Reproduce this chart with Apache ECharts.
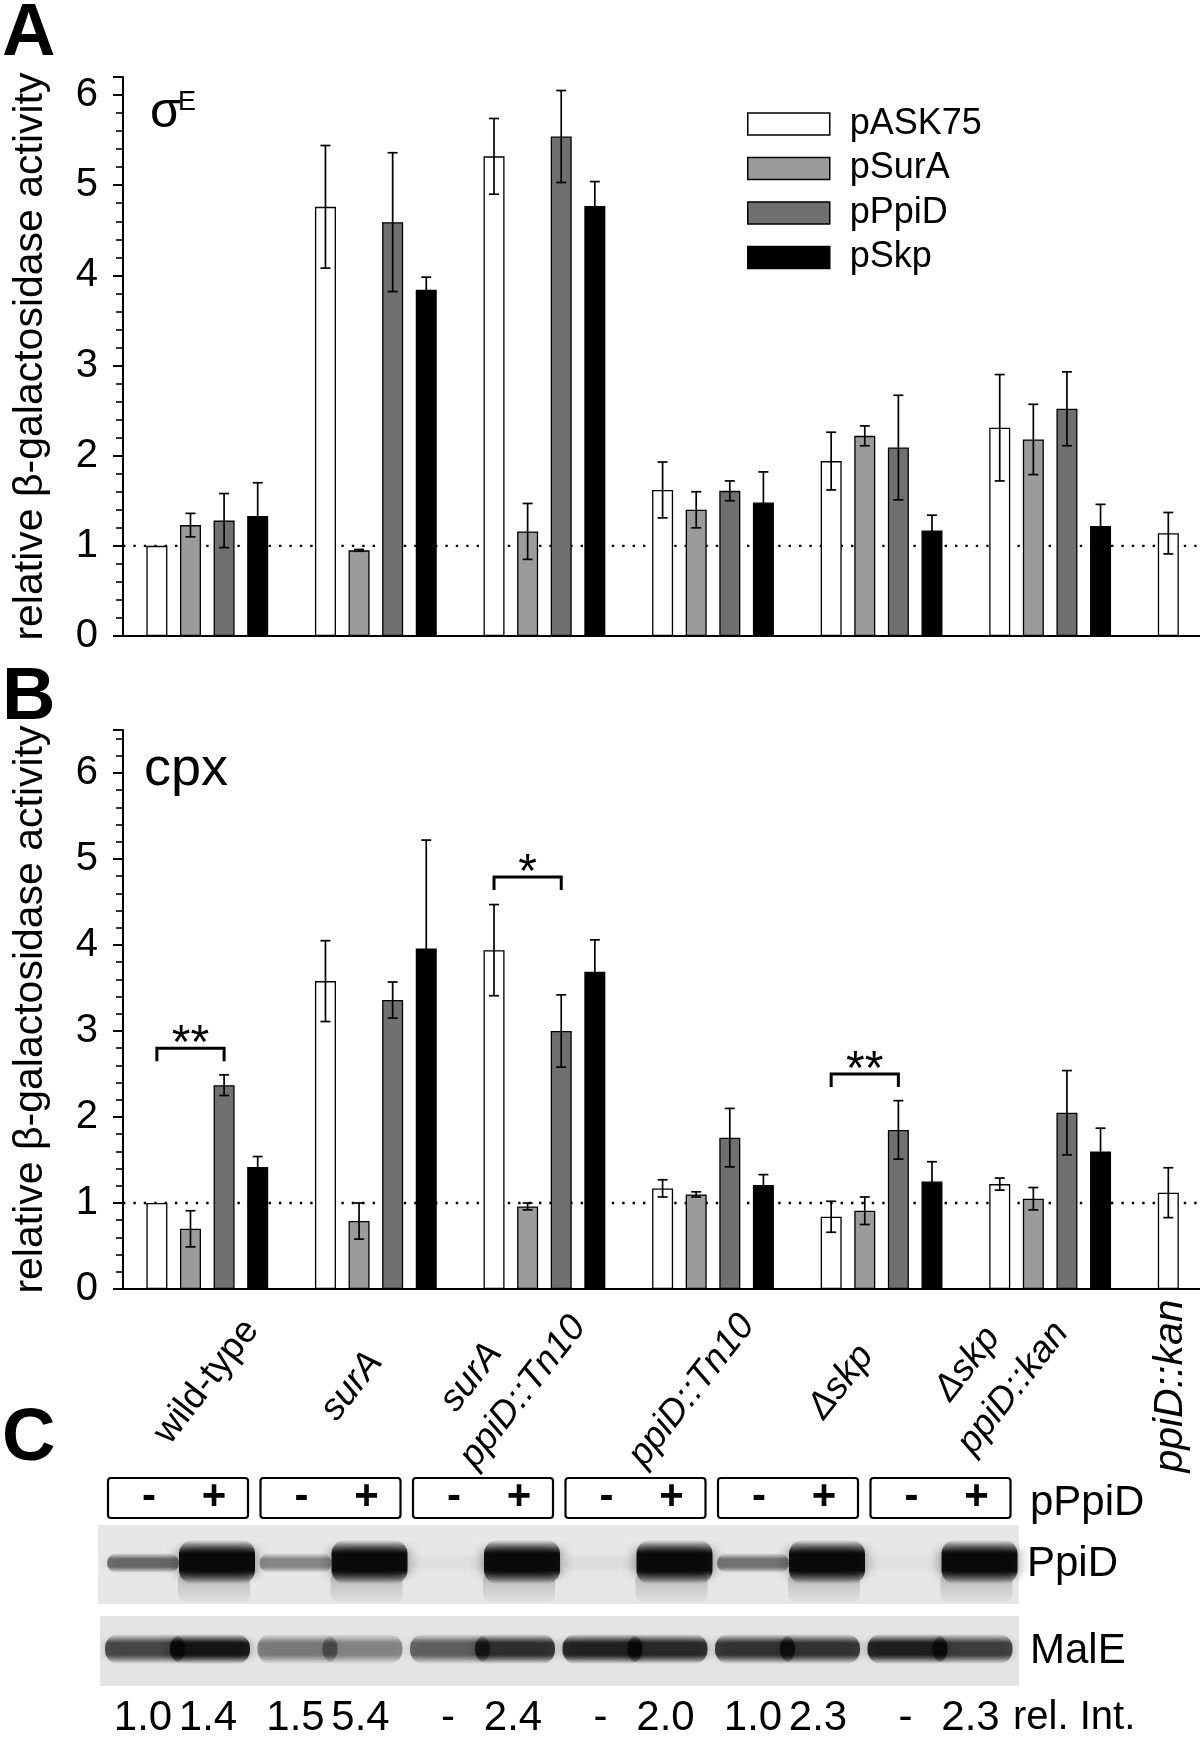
<!DOCTYPE html>
<html><head><meta charset="utf-8">
<script src="https://cdn.jsdelivr.net/npm/echarts/dist/echarts.min.js"></script>
<style>html,body{margin:0;padding:0;background:#fff}#c{width:1200px;height:1741px}</style>
</head><body><div id="c"></div>
<script>
// ---------------- data ----------------
const groups = ['wild-type', 'surA', 'surA\nppiD::Tn10', 'ppiD::Tn10', 'Δskp', 'Δskp\nppiD::kan', 'ppiD::kan'];
const seriesNames = ['pASK75', 'pSurA', 'pPpiD', 'pSkp'];

// Panel A: sigma E reporter
const sigE_pASK75 = [1.00, 4.76, 5.32, 1.62, 1.94, 2.31, 1.14];
const sigE_pSurA  = [1.23, 0.95, 1.16, 1.40, 2.22, 2.18, null];
const sigE_pPpiD  = [1.28, 4.59, 5.54, 1.61, 2.09, 2.52, null];
const sigE_pSkp   = [1.33, 3.84, 4.77, 1.48, 1.17, 1.22, null];
const sigE_err_pASK75 = [0, 0.68, 0.42, 0.31, 0.32, 0.59, 0.23];
const sigE_err_pSurA  = [0.13, 0.01, 0.31, 0.20, 0.11, 0.39, 0];
const sigE_err_pPpiD  = [0.30, 0.77, 0.51, 0.11, 0.58, 0.41, 0];
const sigE_err_pSkp   = [0.37, 0.14, 0.27, 0.34, 0.17, 0.24, 0];

// Panel B: cpx reporter
const cpx_pASK75 = [1.00, 3.58, 3.94, 1.17, 0.84, 1.22, 1.12];
const cpx_pSurA  = [0.70, 0.79, 0.96, 1.10, 0.91, 1.05, null];
const cpx_pPpiD  = [2.37, 3.36, 3.00, 1.76, 1.85, 2.05, null];
const cpx_pSkp   = [1.42, 3.96, 3.69, 1.21, 1.25, 1.60, null];
const cpx_err_pASK75 = [0, 0.47, 0.53, 0.10, 0.18, 0.07, 0.29];
const cpx_err_pSurA  = [0.21, 0.21, 0.04, 0.03, 0.16, 0.13, 0];
const cpx_err_pPpiD  = [0.12, 0.21, 0.42, 0.34, 0.34, 0.49, 0];
const cpx_err_pSkp   = [0.12, 1.26, 0.37, 0.12, 0.23, 0.27, 0];

// significance brackets in panel B (group index, bracket height, label)
const sigGroups  = [0, 2, 4];
const sigHeights = [2.80, 4.79, 2.50];
const sigLabels  = ['**', '*', '**'];

const yTicksA = [0, 1, 2, 3, 4, 5, 6];
const yTicksB = [0, 1, 2, 3, 4, 5, 6];

// Panel C: western blot
const pPpiDSigns = ['-', '+'];
const relInt = ['1.0', '1.4', '1.5', '5.4', '-', '2.4', '-', '2.0', '1.0', '2.3', '-', '2.3'];
const ppidBand = [0.55, 1.0, 0.42, 1.0, 0.04, 1.0, 0.05, 1.0, 0.5, 1.0, 0.03, 1.0];
const maleBand = [0.62, 0.85, 0.42, 0.38, 0.52, 0.72, 0.78, 0.75, 0.7, 0.7, 0.8, 0.66];

// ---------------- style / layout ----------------
const FONT = '"Liberation Sans", Arial, Helvetica, sans-serif';
const NARROW = '"Liberation Sans Narrow", "Arial Narrow", "Liberation Sans", sans-serif';
const colors = ['#ffffff', '#9b9b9b', '#707070', '#000000'];
const BAR_W = 21, GAP = 0.6, SLOT = BAR_W * (1 + GAP);

const chart = echarts.init(document.getElementById('c'), null, {renderer: 'canvas', width: 1200, height: 1741});

function errData(vals, errs) {
  const out = [];
  vals.forEach((arr, s) => arr.forEach((v, c) => {
    if (v != null && errs[s][c] > 0) out.push([c, v, errs[s][c], s]);
  }));
  return out;
}
function errRender(params, api) {
  const c = api.value(0), v = api.value(1), e = api.value(2), s = api.value(3);
  const x = api.coord([c, v])[0] + (s - 1.5) * SLOT;
  const top = api.coord([c, v + e])[1], bot = api.coord([c, v - e])[1];
  const hw = 5, st = {stroke: '#000', lineWidth: 1.7};
  return {type: 'group', children: [
    {type: 'line', shape: {x1: x, y1: top, x2: x, y2: bot}, style: st},
    {type: 'line', shape: {x1: x - hw, y1: top, x2: x + hw, y2: top}, style: st},
    {type: 'line', shape: {x1: x - hw, y1: bot, x2: x + hw, y2: bot}, style: st}
  ]};
}
function refRender(params, api) {
  const y = api.coord([0, 1])[1];
  const cs = params.coordSys;
  return {type: 'line', shape: {x1: cs.x, y1: y, x2: cs.x + cs.width, y2: y},
    style: {stroke: '#000', lineWidth: 2.4, lineDash: [2.4, 8]}};
}
function sigRender(params, api) {
  const c = api.value(0), h = api.value(1), k = api.value(2);
  const p = api.coord([c, h]);
  const x1 = p[0] - 1.5 * SLOT, x2 = p[0] + 0.5 * SLOT, y = p[1];
  const st = {stroke: '#000', lineWidth: 3, lineJoin: 'miter'};
  return {type: 'group', children: [
    {type: 'polyline', shape: {points: [[x1, y + 13], [x1, y], [x2, y], [x2, y + 13]]}, style: Object.assign({fill: null}, st)},
    {type: 'text', x: (x1 + x2) / 2, y: y - 3, style: {text: sigLabels[k], fontSize: 48, fontFamily: FONT, fill: '#000', align: 'center', verticalAlign: 'middle'}}
  ]};
}

const valsA = [sigE_pASK75, sigE_pSurA, sigE_pPpiD, sigE_pSkp];
const errsA = [sigE_err_pASK75, sigE_err_pSurA, sigE_err_pPpiD, sigE_err_pSkp];
const valsB = [cpx_pASK75, cpx_pSurA, cpx_pPpiD, cpx_pSkp];
const errsB = [cpx_err_pASK75, cpx_err_pSurA, cpx_err_pPpiD, cpx_err_pSkp];

function barSeries(vals, panel) {
  return vals.map((d, s) => ({
    type: 'bar', name: seriesNames[s], xAxisIndex: panel, yAxisIndex: panel * 2,
    data: d.map(v => v == null ? '-' : v), barWidth: BAR_W, barGap: '60%', z: 2,
    itemStyle: {color: colors[s], borderColor: '#000', borderWidth: 1.3},
    emphasis: {disabled: true}, silent: true
  }));
}

const yName = 'relative β-galactosidase activity';
function majorY(grid, max, ticks) {
  return {gridIndex: grid, type: 'value', min: 0, max: max, interval: 1, position: 'left',
    axisLine: {show: true, lineStyle: {color: '#000', width: 2}},
    axisTick: {show: true, length: 10, lineStyle: {color: '#000', width: 2}},
    axisLabel: {fontSize: 40, fontFamily: FONT, color: '#000', margin: 25,
      formatter: v => ticks.indexOf(Math.round(v * 1000) / 1000) >= 0 ? String(Math.round(v)) : ''},
    splitLine: {show: false},
    name: yName, nameLocation: 'middle', nameRotate: 90, nameGap: 72,
    nameTextStyle: {fontSize: 41, fontFamily: FONT, color: '#000'}};
}
function minorY(grid, max) {
  return {gridIndex: grid, type: 'value', min: 0, max: max, interval: 0.2, position: 'left',
    axisLine: {show: false}, axisLabel: {show: false}, splitLine: {show: false},
    axisTick: {show: true, length: 7, lineStyle: {color: '#000', width: 1.6}}};
}
function catX(grid) {
  return {gridIndex: grid, type: 'category', data: groups,
    axisLine: {lineStyle: {color: '#000', width: 2}}, axisTick: {show: false}, axisLabel: {show: false}};
}

chart.setOption({
  animation: false,
  backgroundColor: '#fff',
  grid: [
    {left: 123, top: 77, width: 1180, height: 559, outerBoundsMode: 'none', containLabel: false},
    {left: 123, top: 730, width: 1180, height: 559, outerBoundsMode: 'none', containLabel: false}
  ],
  xAxis: [catX(0), catX(1)],
  yAxis: [majorY(0, 6.2, yTicksA), minorY(0, 6.2), majorY(1, 6.5, yTicksB), minorY(1, 6.5)],
  legend: {data: seriesNames, orient: 'vertical', left: 747, top: 106, itemWidth: 82, itemHeight: 22,
    itemGap: 8.5, icon: 'rect', selectedMode: false, padding: 0,
    itemStyle: {borderColor: '#000', borderWidth: 1.5},
    textStyle: {fontSize: 36, fontFamily: FONT, color: '#000', padding: [0, 0, 0, 15]}},
  series: [
    {type: 'custom', xAxisIndex: 0, yAxisIndex: 0, data: [[0, 1]], renderItem: refRender, z: 1, silent: true},
    {type: 'custom', xAxisIndex: 1, yAxisIndex: 2, data: [[0, 1]], renderItem: refRender, z: 1, silent: true},
    ...barSeries(valsA, 0),
    ...barSeries(valsB, 1),
    {type: 'custom', xAxisIndex: 0, yAxisIndex: 0, data: errData(valsA, errsA), encode: {x: 0, y: 1}, renderItem: errRender, z: 3, silent: true},
    {type: 'custom', xAxisIndex: 1, yAxisIndex: 2, data: errData(valsB, errsB), encode: {x: 0, y: 1}, renderItem: errRender, z: 3, silent: true},
    {type: 'custom', xAxisIndex: 1, yAxisIndex: 2, data: sigGroups.map((g, k) => [g, sigHeights[k], k]), encode: {x: 0, y: 1}, renderItem: sigRender, z: 3, silent: true}
  ]
});

// ---------------- text + blot graphics ----------------
const g = [];
function txt(text, x, y, size, opts) {
  opts = opts || {};
  g.push({type: 'text', x: x, y: y, rotation: opts.rot || 0, silent: true,
    style: {text: text, fontSize: size, fontFamily: opts.family || FONT, fontWeight: opts.weight || 'normal',
      fontStyle: opts.style || 'normal', fill: '#000', align: opts.align || 'left', verticalAlign: 'middle'}});
}
// panel letters
txt('A', 2, 35, 74, {weight: 'bold'});
txt('B', 2, 699, 74, {weight: 'bold'});
txt('C', 2, 1440, 74, {weight: 'bold'});
// panel titles
txt('σ', 150, 113, 50);
txt('E', 178, 103, 27);
txt('cpx', 144, 770, 54);

// category labels below panel B (positioned from the category axis): [dx, dy, angle, fontSize]
const catLabelLayout = [
  [[-0.6, 92.6, 52, 37]],
  [[-24, 97, 52, 37]],
  [[-73, 88, 52, 37], [-21.4, 103, 52, 37]],
  [[-21.2, 101.6, 52, 37]],
  [[-40.6, 93, 52, 37]],
  [[-82.7, 75, 52, 37], [-37, 99, 52, 37]],
  [[-47.7, 97, 90, 41]]
];
const zeroY = chart.convertToPixel({yAxisIndex: 2}, 0);
groups.forEach((name, i) => {
  const cx = chart.convertToPixel({xAxisIndex: 1}, i);
  name.split('\n').forEach((line, j) => {
    const L = catLabelLayout[i][j];
    txt(line, cx + L[0], zeroY + L[1], L[3], {align: 'center', rot: L[2] * Math.PI / 180,
      style: line === 'wild-type' ? 'normal' : 'italic'});
  });
});

// blot panel
const boxLeft = k => 108 + 152.5 * k;
const laneX = i => boxLeft(Math.floor(i / 2)) + (i % 2 ? 106 : 41);
for (let k = 0; k < 6; k++) {
  g.push({type: 'rect', silent: true, shape: {x: boxLeft(k), y: 1478, width: 140, height: 40, r: 3},
    style: {fill: '#fff', stroke: '#000', lineWidth: 2.2}});
  pPpiDSigns.forEach((s, j) => txt(s, laneX(2 * k + j), 1497, 42, {align: 'center', weight: 'bold'}));
}
txt('pPpiD', 1030, 1503, 42);
// blot backgrounds
g.push({type: 'rect', silent: true, shape: {x: 98, y: 1525, width: 921, height: 79}, style: {fill: '#e7e7e7'}});
g.push({type: 'rect', silent: true, shape: {x: 100, y: 1616, width: 919, height: 70}, style: {fill: '#e4e4e4'}});
function band(cx, cy, w, h, a, blur) {
  g.push({type: 'rect', silent: true, shape: {x: cx - w / 2, y: cy - h / 2, width: w, height: h, r: Math.min(h / 2, 14)},
    style: {fill: {type: 'linear', x: 0, y: 0, x2: 0, y2: 1, colorStops: [
      {offset: 0, color: 'rgba(0,0,0,0)'}, {offset: 0.3, color: 'rgba(0,0,0,' + a + ')'},
      {offset: 0.7, color: 'rgba(0,0,0,' + a + ')'}, {offset: 1, color: 'rgba(0,0,0,0)'}]},
      shadowBlur: blur, shadowColor: 'rgba(0,0,0,' + (a * 0.55) + ')'}});
}
ppidBand.forEach((a, i) => {
  const x = laneX(i);
  if (a > 0.9) {
    g.push({type: 'rect', silent: true, shape: {x: x - 36, y: 1572, width: 72, height: 30, r: 8},
      style: {fill: {type: 'linear', x: 0, y: 0, x2: 0, y2: 1, colorStops: [
        {offset: 0, color: 'rgba(0,0,0,0.2)'}, {offset: 1, color: 'rgba(0,0,0,0.03)'}]}, shadowBlur: 10, shadowColor: 'rgba(0,0,0,0.12)'}});
    band(x + 3, 1562, 76, 44, 0.93, 14);
  } else {
    band(x - 6, 1563, 72, 20, a * 0.9, 10);
  }
});
maleBand.forEach((a, i) => band(laneX(i) - 4, 1649, 80, 30, a, 10));
txt('PpiD', 1027, 1564, 42);
txt('MalE', 1030, 1651, 42);
relInt.forEach((s, i) => txt(s, laneX(i) - 6, 1718, 42, {align: 'center', family: NARROW}));
txt('rel. Int.', 1013, 1718, 40);

chart.setOption({graphic: {elements: g}});
</script></body></html>
